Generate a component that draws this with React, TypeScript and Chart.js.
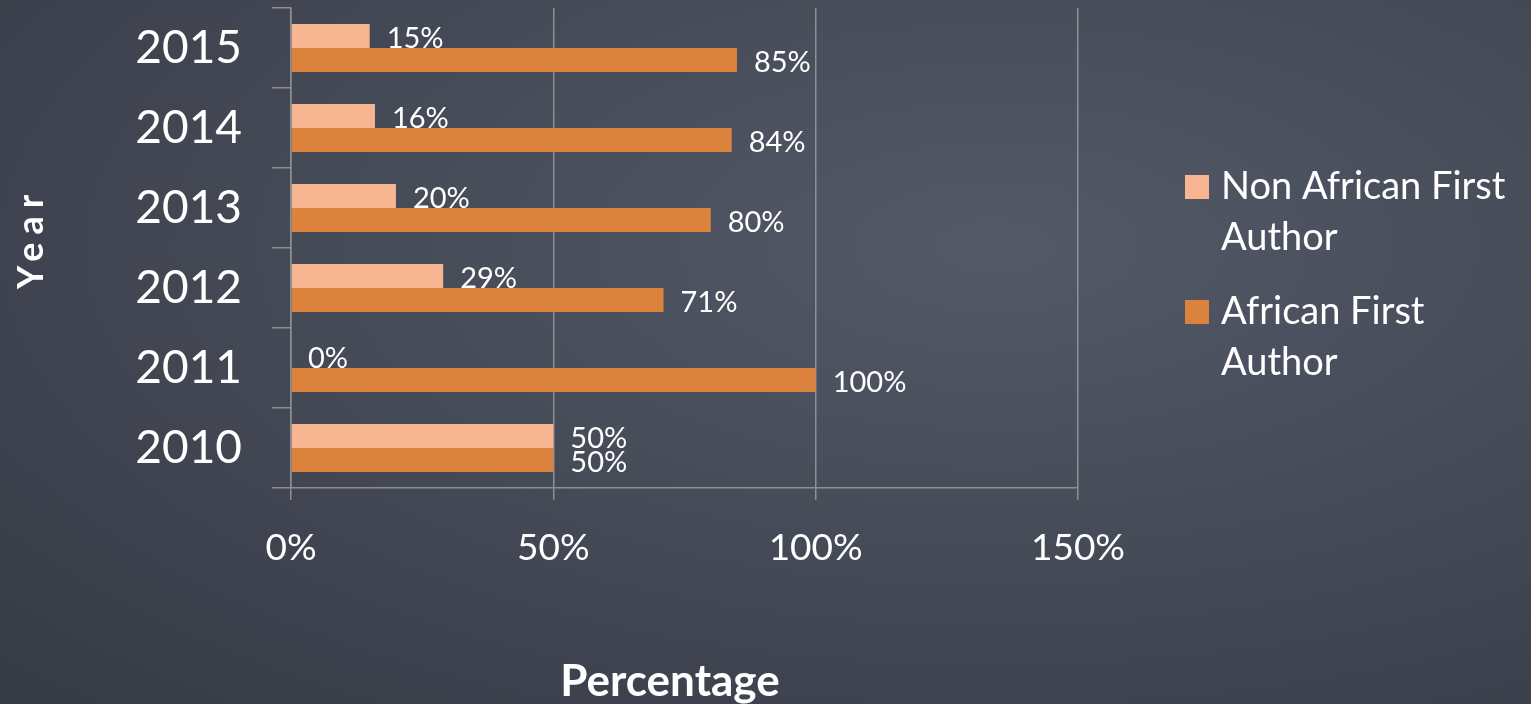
import React, { useEffect, useRef } from "react";
import { Chart, registerables } from "chart.js";

Chart.register(...registerables);

const years = ["2010", "2011", "2012", "2013", "2014", "2015"];
const nonAfrican = [50, 0, 29, 20, 16, 15];
const african = [50, 100, 71, 80, 84, 85];
const seriesNames = [["Non African First", "Author"], ["African First", "Author"]];
const seriesColors = ["#F8B592", "#DB823D"];
const xTicks = [0, 50, 100, 150];
const xTitle = "Percentage";
const yTitle = "Year";

const FONT = "Lato, 'Open Sans', sans-serif";
const GRID = "#8e8f94";

const valueLabels = {
  id: "valueLabels",
  afterDatasetsDraw(chart: any) {
    const ctx = chart.ctx;
    ctx.save();
    ctx.fillStyle = "#ffffff";
    ctx.font = `29px ${FONT}`;
    ctx.textAlign = "left";
    ctx.textBaseline = "middle";
    chart.data.datasets.forEach((ds: any, i: number) => {
      const meta = chart.getDatasetMeta(i);
      meta.data.forEach((bar: any, j: number) => {
        ctx.fillText(`${ds.data[j]}%`, bar.x + 17, bar.y + 3);
      });
    });
    ctx.restore();
  },
};

const axisTitles = {
  id: "axisTitles",
  afterDraw(chart: any) {
    const ctx = chart.ctx;
    ctx.save();
    ctx.fillStyle = "#ffffff";
    ctx.textAlign = "center";
    ctx.textBaseline = "middle";
    ctx.font = `bold 44px ${FONT}`;
    ctx.fillText(xTitle, 670, 682);
    ctx.translate(31, 242);
    ctx.rotate(-Math.PI / 2);
    ctx.font = `bold 36px ${FONT}`;
    (ctx as any).letterSpacing = "8px";
    ctx.fillText(yTitle, 4, 0);
    ctx.restore();
  },
};

const sideLegend = {
  id: "sideLegend",
  afterDraw(chart: any) {
    const ctx = chart.ctx;
    ctx.save();
    ctx.font = `38px ${FONT}`;
    ctx.textAlign = "left";
    ctx.textBaseline = "middle";
    const starts = [187, 312];
    seriesNames.forEach((lines, i) => {
      const y0 = starts[i];
      ctx.fillStyle = seriesColors[i];
      ctx.fillRect(1185, y0 - 12, 24, 24);
      ctx.fillStyle = "#ffffff";
      lines.forEach((ln, k) => ctx.fillText(ln, 1221, y0 + k * 51));
    });
    ctx.restore();
  },
};

export default function App() {
  const ref = useRef<HTMLCanvasElement>(null);
  useEffect(() => {
    if (!ref.current) return;
    const chart = new Chart(ref.current, {
      type: "bar",
      data: {
        labels: years,
        datasets: [
          { label: seriesNames[0].join(" "), data: nonAfrican, backgroundColor: seriesColors[0] },
          { label: seriesNames[1].join(" "), data: african, backgroundColor: seriesColors[1] },
        ],
      },
      options: {
        indexAxis: "y",
        responsive: false,
        animation: false,
        devicePixelRatio: 1,
        categoryPercentage: 0.6,
        barPercentage: 1.0,
        layout: { padding: { top: 8, right: 453, left: 0, bottom: 0 } },
        plugins: { legend: { display: false }, tooltip: { enabled: false } },
        scales: {
          x: {
            min: 0,
            max: 150,
            afterBuildTicks: (s: any) => {
              s.ticks = xTicks.map((v) => ({ value: v }));
            },
            afterFit: (s: any) => {
              s.height = 216;
              s.paddingLeft = 0;
              s.paddingRight = 0;
            },
            grid: { color: GRID, lineWidth: 1.5, tickLength: 12 },
            border: { color: GRID, width: 1.5 },
            ticks: {
              color: "#ffffff",
              font: { family: FONT, size: 37 },
              padding: 26,
              callback: (v: any) => `${v}%`,
            },
          },
          y: {
            reverse: true,
            afterFit: (s: any) => {
              s.width = 291;
              s.paddingTop = 0;
              s.paddingBottom = 0;
            },
            grid: { color: GRID, lineWidth: 1.5, tickLength: 19, drawOnChartArea: false, offset: true },
            border: { color: GRID, width: 1.5 },
            ticks: {
              color: "#ffffff",
              font: { family: FONT, size: 46 },
              padding: 30,
            },
          },
        },
      },
      plugins: [valueLabels, axisTitles, sideLegend],
    });
    return () => chart.destroy();
  }, []);

  return (
    <div
      style={{
        position: "fixed",
        left: 0,
        top: 0,
        width: 1531,
        height: 704,
        background:
          "radial-gradient(ellipse at 65% 35%, #545968 0%, #464b58 45%, #363a45 100%)",
      }}
    >
      <canvas ref={ref} width={1531} height={704} style={{ display: "block" }} />
    </div>
  );
}
